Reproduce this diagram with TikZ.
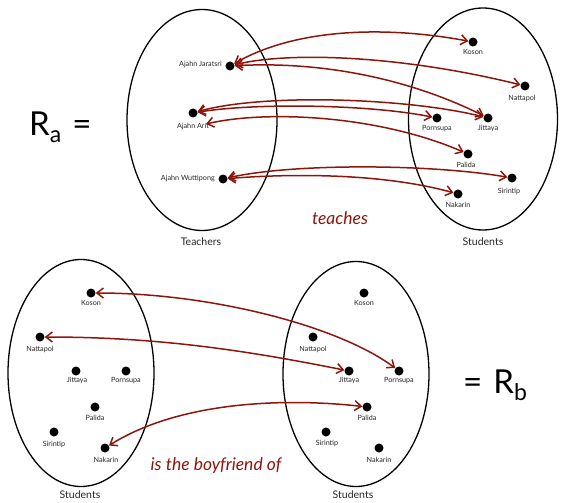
\documentclass[tikz,border=0pt]{standalone}
\usepackage{fontspec}
\setmainfont{Lato}
\usetikzlibrary{arrows.meta,shapes.geometric}
\definecolor{relc}{RGB}{140,22,12}
\begin{document}
\begin{tikzpicture}[x=1pt,y=-1pt,
  dot/.style={circle,fill=black,inner sep=0pt,minimum size=9pt},
  lbl/.style={font=\fontsize{7.2}{8}\selectfont,inner sep=0pt,text=black!85},
  setname/.style={font=\fontsize{10.5}{12}\selectfont,inner sep=0pt,text=black!85},
  setring/.style={draw,ellipse,line width=1.3pt,inner sep=0pt},
  relname/.style={font=\itshape\fontsize{17.5}{19}\selectfont,text=relc,inner sep=0pt},
  big/.style={font=\fontsize{33}{35}\selectfont,inner sep=0pt},
  rel/.style={draw=relc,line width=1.5pt,
    {Straight Barb[length=6.5pt,width=10pt]}-{Straight Barb[length=6.5pt,width=10pt]}}]
\useasboundingbox (0,0) rectangle (563,503);

% ---------- teaches ----------
\node[setring,minimum width=150pt,minimum height=221pt] (teach) at (202,120) {};
\node[setring,minimum width=149pt,minimum height=222pt] (stud) at (483,119) {};
\node[setname] (tteach) at (201,242) {Teachers};
\node[setname] (tstud) at (483,242) {Students};
\node[relname] (rteach) at (340,218) {teaches};
\node[big,anchor=west] (ra) at (29,127) {R\raisebox{-0.22em}{\fontsize{23}{24}\selectfont a}\,\,=};

\node[dot] (jar) at (230,66) {};
\node[lbl,anchor=east] (ljar) at (222,65) {Ajahn Jaratsri};
\node[dot] (ari) at (193,113) {};
\node[lbl] (lari) at (193,127) {Ajahn Arit};
\coordinate (arilow) at (206,124);
\node[dot] (wut) at (223,179) {};
\node[lbl,anchor=east] (lwut) at (215,179) {Ajahn Wuttipong};

\node[dot] (kos) at (473,42) {};
\node[lbl] (lkos) at (473,52) {Koson};
\node[dot] (nat) at (525,86) {};
\node[lbl] (lnat) at (522,98) {Nattapol};
\node[dot] (por) at (437,118) {};
\node[lbl] (lpor) at (437,129) {Pornsupa};
\node[dot] (jit) at (488,118) {};
\node[lbl] (ljit) at (488,128) {Jittaya};
\node[dot] (pal) at (468,154) {};
\node[lbl] (lpal) at (466,165) {Palida};
\node[dot] (sir) at (512,178) {};
\node[lbl] (lsir) at (509,191) {Sirintip};
\node[dot] (nak) at (458,194) {};
\node[lbl] (lnak) at (458,205) {Nakarin};

\draw[rel] (jar) .. controls +(70,-40) and +(-80,-15) .. (kos);
\draw[rel] (jar) .. controls +(60,-15) and +(-120,-30) .. (nat);
\draw[rel] (jar) .. controls +(90,-5) and +(-80,-40) .. (jit);
\draw[rel] (ari) .. controls +(70,-20) and +(-80,-20) .. (jit);
\draw[rel] (ari) .. controls +(60,-10) and +(-70,-14) .. (por);
\draw[rel] (arilow) .. controls +(60,-14) and +(-90,-39) .. (pal);
\draw[rel] (wut) .. controls +(70,-16) and +(-80,-14) .. (sir);
\draw[rel] (wut) .. controls +(60,-5) and +(-80,-22) .. (nak);

% ---------- is the boyfriend of ----------
\node[setring,minimum width=146pt,minimum height=227pt] (sa) at (81,373) {};
\node[setring,minimum width=146pt,minimum height=225pt] (sb) at (356,374) {};
\node[setname] (tsa) at (80,495) {Students};
\node[setname] (tsb) at (353,495) {Students};
\node[relname] (rboy) at (216,466) {is the boyfriend of};
\node[big,anchor=west] (rb) at (463,385) {=\,\,R\raisebox{-0.22em}{\fontsize{23}{24}\selectfont b}};

\node[dot] (akos) at (91,293) {};
\node[lbl] (lakos) at (91,303) {Koson};
\node[dot] (anat) at (40,337) {};
\node[lbl] (lanat) at (40,349) {Nattapol};
\node[dot] (ajit) at (76,371) {};
\node[lbl] (lajit) at (77,380) {Jittaya};
\node[dot] (apor) at (126,371) {};
\node[lbl] (lapor) at (126,381) {Pornsupa};
\node[dot] (apal) at (95,407) {};
\node[lbl] (lapal) at (95,418) {Palida};
\node[dot] (asir) at (54,432) {};
\node[lbl] (lasir) at (54,444) {Sirintip};
\node[dot] (anak) at (105,448) {};
\node[lbl] (lanak) at (106,460) {Nakarin};

\node[dot] (bkos) at (364,293) {};
\node[lbl] (lbkos) at (364,303) {Koson};
\node[dot] (bnat) at (313,337) {};
\node[lbl] (lbnat) at (313,349) {Nattapol};
\node[dot] (bjit) at (349,371) {};
\node[lbl] (lbjit) at (349,380) {Jittaya};
\node[dot] (bpor) at (399,371) {};
\node[lbl] (lbpor) at (399,381) {Pornsupa};
\node[dot] (bpal) at (367,407) {};
\node[lbl] (lbpal) at (367,418) {Palida};
\node[dot] (bsir) at (326,432) {};
\node[lbl] (lbsir) at (327,443) {Sirintip};
\node[dot] (bnak) at (379,448) {};
\node[lbl] (lbnak) at (379,460) {Nakarin};

\draw[rel] (akos) .. controls +(120,0) and +(-60,-45) .. (bpor);
\draw[rel] (anat) .. controls +(120,0) and +(-100,-20) .. (bjit);
\draw[rel] (anak) .. controls +(80,-50) and +(-70,-8) .. (bpal);
\end{tikzpicture}
\end{document}
